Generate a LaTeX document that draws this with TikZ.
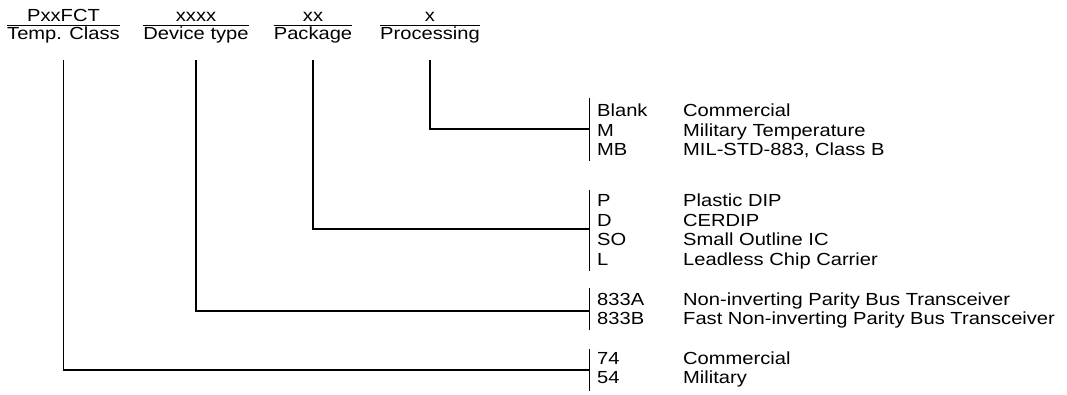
\documentclass[tikz,border=0pt]{standalone}
\usepackage{fontspec}
\setmainfont{Liberation Sans}[FakeStretch=1.15]
\begin{document}
\begin{tikzpicture}[x=1pt,y=-1pt,
  every node/.style={font=\fontsize{17.5}{19}\selectfont, inner sep=0pt},
  hdr/.style={anchor=base},
  row/.style={anchor=base west},
  bar/.style={line width=1pt},
  conn/.style={line width=1.4pt},
  rule/.style={line width=1.3pt}]
\useasboundingbox (0,0) rectangle (1067,395);
\coordinate (hl) at (0,25.5);
\coordinate (vs) at (0,60);
% headers
\node[hdr] (tc) at (63.5,40) {Temp. Class};
\node[hdr] (tcv) at (63.5,22) {PxxFCT};
\node[hdr] (dt) at (196,40) {Device type};
\node[hdr] (dtv) at (196,22) {xxxx};
\node[hdr] (pk) at (313,40) {Package};
\node[hdr] (pkv) at (313,22) {xx};
\node[hdr] (pr) at (430,40) {Processing};
\node[hdr] (prv) at (430,22) {x};
\foreach \n in {tc,dt,pk,pr}
  \draw[rule] (\n.west |- hl) -- (\n.east |- hl);
% rows
\foreach \y/\c/\d [count=\i] in {
  117/Blank/Commercial,
  136.5/M/Military Temperature,
  156/MB/{MIL-STD-883, Class B},
  207/P/Plastic DIP,
  226.5/D/CERDIP,
  246/SO/Small Outline IC,
  265.5/L/Leadless Chip Carrier,
  305/833A/Non-inverting Parity Bus Transceiver,
  324.5/833B/Fast Non-inverting Parity Bus Transceiver,
  364/74/Commercial,
  383.5/54/Military}{
  \node[row] (c\i) at (597,\y) {\c};
  \node[row] (d\i) at (683,\y) {\d};
}
% bars
\draw[bar] (589,98) -- (589,161);
\draw[bar] (589,190) -- (589,271);
\draw[bar] (589,288) -- (589,330);
\draw[bar] (589,349) -- (589,391);
% junctions
\coordinate (jpr) at (589,129);
\coordinate (jpk) at (589,229);
\coordinate (jdt) at (589,311);
\coordinate (jtc) at (589,370);
% connectors
\draw[conn] (pr.south |- vs) |- (jpr);
\draw[conn] (pk.south |- vs) |- (jpk);
\draw[conn] (dt.south |- vs) |- (jdt);
\draw[conn] (tc.south |- vs) |- (jtc);
\end{tikzpicture}
\end{document}
